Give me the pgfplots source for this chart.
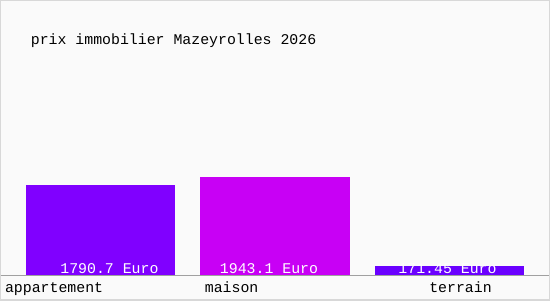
\documentclass[border=0pt]{standalone}
\usepackage{fontspec}
\setmainfont{Liberation Mono}
\usepackage{pgfplots}
\pgfplotsset{compat=1.18}
\definecolor{bgc}{HTML}{FAFAFA}
\definecolor{brd}{HTML}{D8D8D8}
\definecolor{axc}{HTML}{A0A0A0}
\definecolor{c1}{HTML}{8000FF}
\definecolor{c2}{HTML}{C800F5}
\definecolor{c3}{HTML}{6A00FF}
\begin{document}
\begin{tikzpicture}
\begin{axis}[
  scale only axis, width=550bp, height=300bp,
  xmin=0, xmax=550, ymin=-496.75, ymax=5465,
  axis lines=none, clip=false,
  ybar, bar width=150, bar shift=0pt,
]
\fill[bgc] (axis cs:0,-496.75) rectangle (axis cs:550,5465);
\draw[brd,line width=1.5bp] (rel axis cs:0,0) rectangle (rel axis cs:1,1);
\addplot[fill=c1, draw=none] coordinates {(100,1790.7)};
\addplot[fill=c2, draw=none] coordinates {(275,1943.1)};
\addplot[fill=c3, draw=none] coordinates {(450,171.45)};
\draw[axc,line width=1bp] (axis cs:0,0) -- (axis cs:550,0);
\node[anchor=base west, inner sep=0, font=\fontsize{14.9bp}{17bp}\selectfont] at (axis cs:30,4590) {prix immobilier Mazeyrolles 2026};
\node[anchor=base, inner sep=0, white, font=\fontsize{14.9bp}{17bp}\selectfont] at (axis cs:109,40) {1790.7 Euro};
\node[anchor=base, inner sep=0, white, font=\fontsize{14.9bp}{17bp}\selectfont] at (axis cs:269,40) {1943.1 Euro};
\node[anchor=base, inner sep=0, white, font=\fontsize{14.9bp}{17bp}\selectfont] at (axis cs:448,40) {171.45 Euro};
\node[anchor=base, inner sep=0, font=\fontsize{14.9bp}{17bp}\selectfont] at (axis cs:53.5,-358) {appartement};
\node[anchor=base, inner sep=0, font=\fontsize{14.9bp}{17bp}\selectfont] at (axis cs:231.5,-358) {maison};
\node[anchor=base, inner sep=0, font=\fontsize{14.9bp}{17bp}\selectfont] at (axis cs:461,-358) {terrain};
\end{axis}
\end{tikzpicture}
\end{document}
